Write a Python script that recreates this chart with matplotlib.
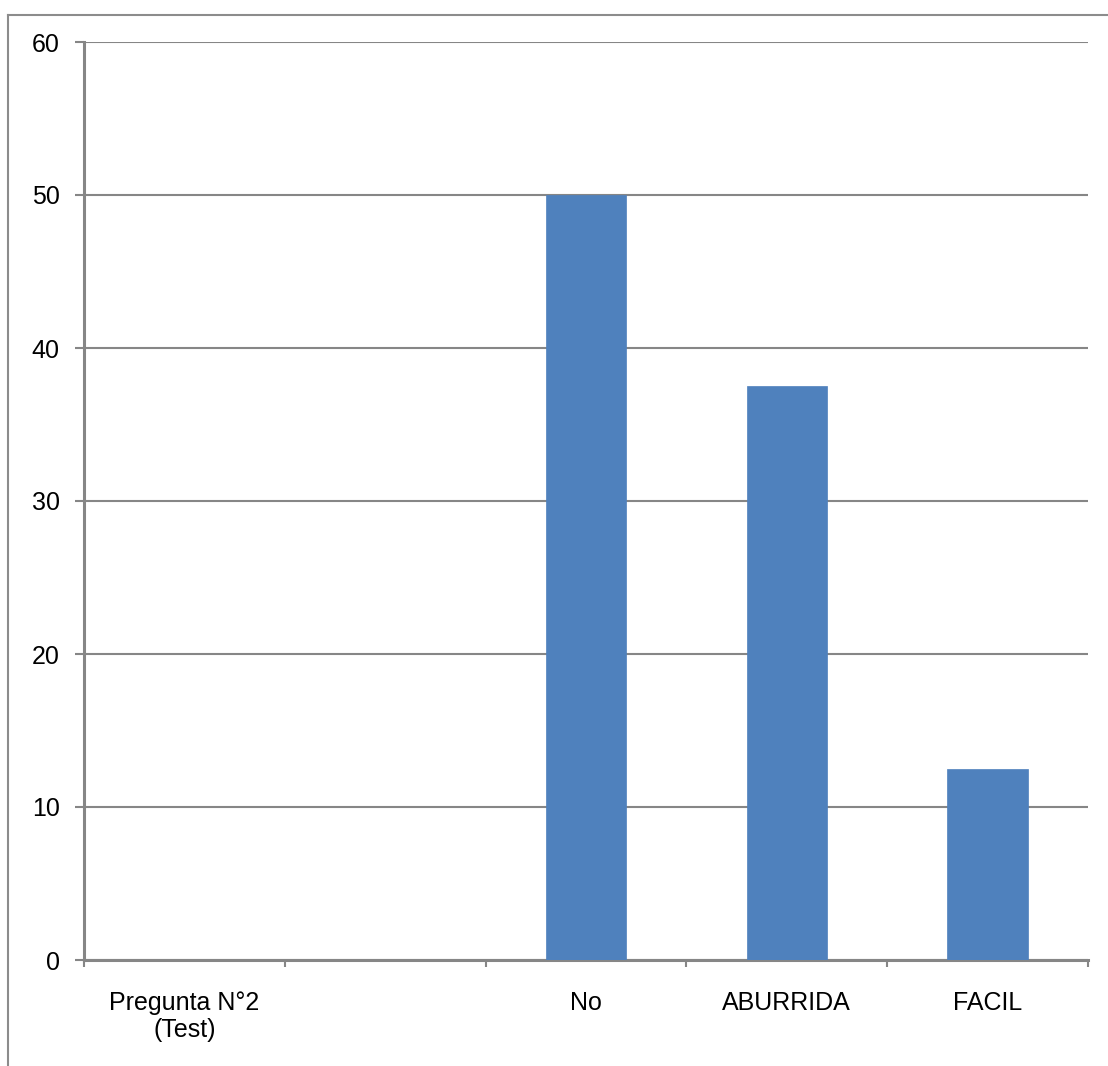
import numpy as np
import matplotlib
matplotlib.use("Agg")
import matplotlib.pyplot as plt
from matplotlib.lines import Line2D

categories = ["Pregunta N°2\n(Test)", "", "No", "ABURRIDA", "FACIL"]
values = [0, np.nan, 50, 37.5, 12.5]
y_ticks = [0, 10, 20, 30, 40, 50, 60]

W, H = 1108, 1066
plt.rcParams["font.family"] = ["Liberation Sans Narrow", "Liberation Sans", "DejaVu Sans"]

fig = plt.figure(figsize=(W / 100, H / 100), dpi=100)
grey = "#868686"

# chart-area border (left and top edges)
fig.add_artist(Line2D([8 / W, 8 / W], [0, 1 - 15 / H], transform=fig.transFigure,
                      color="#8c8c8c", lw=1.5))
fig.add_artist(Line2D([8 / W, 1], [1 - 15 / H, 1 - 15 / H], transform=fig.transFigure,
                      color="#8c8c8c", lw=1.5))

left, right, top, bottom = 84, 1088, 42, 960
ax = fig.add_axes([left / W, 1 - bottom / H, (right - left) / W, (bottom - top) / H])

x = np.arange(len(categories))
ax.bar(x, values, width=0.4, color="#4F81BD", edgecolor="#4F81BD", lw=0.5, zorder=3)

ax.set_xlim(-0.5, len(categories) - 0.5)
ax.set_ylim(0, 60)
ax.set_yticks(y_ticks)
ax.set_yticklabels([str(v) for v in y_ticks])
ax.yaxis.grid(True, color=grey, lw=1.5, zorder=0)
ax.set_axisbelow(True)

ax.set_xticks(x)
ax.set_xticklabels(categories, linespacing=1.2)
ax.set_xticks(np.arange(len(categories) + 1) - 0.5, minor=True)
ax.tick_params(axis="x", which="major", length=0, pad=22, labelsize=18)
ax.tick_params(axis="x", which="minor", length=5, width=1.5, color=grey)
ax.tick_params(axis="y", length=6.5, width=1.5, color=grey, pad=11, labelsize=18)

for s in ("top", "right"):
    ax.spines[s].set_visible(False)
for s in ("left", "bottom"):
    ax.spines[s].set_color(grey)
    ax.spines[s].set_linewidth(2.2)

fig.savefig("out.png", dpi=100)
